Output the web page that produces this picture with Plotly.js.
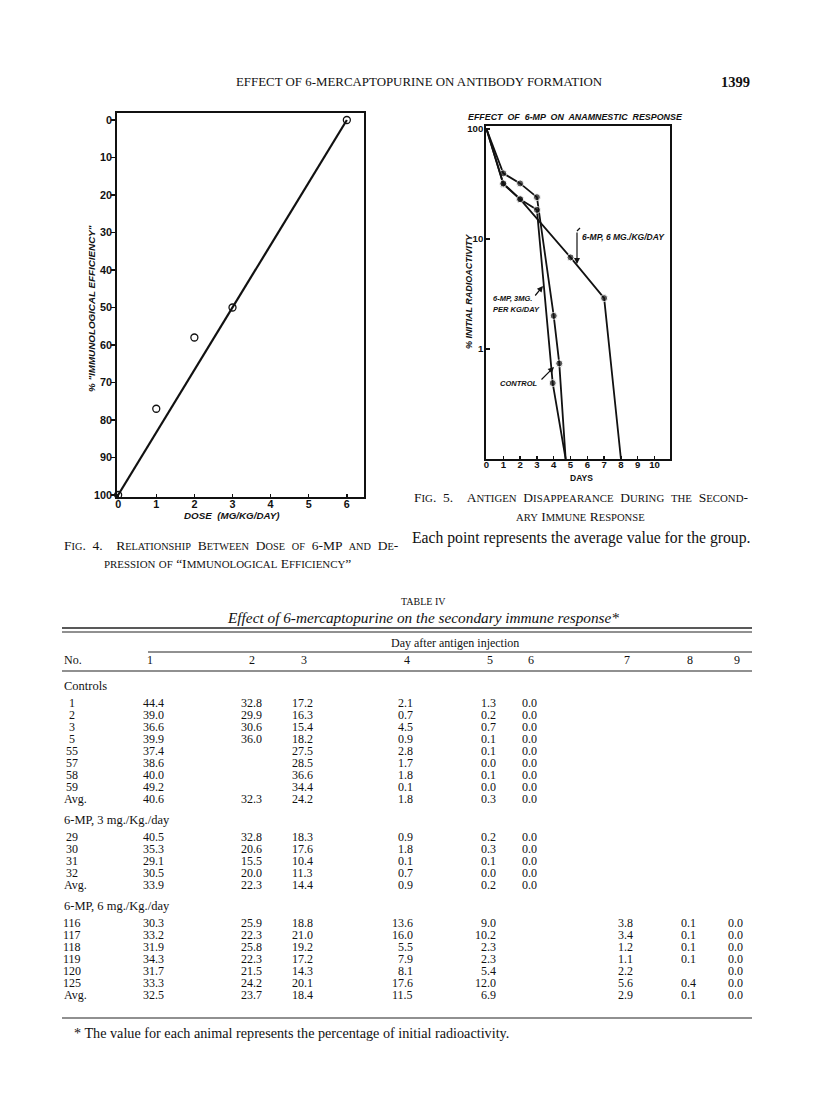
<!DOCTYPE html>
<html><head><meta charset="utf-8">
<script src="https://cdn.plot.ly/plotly-3.0.1.min.js"></script>
<style>html,body{margin:0;padding:0;background:#fff}#g{width:816px;height:1109px}</style>
</head><body><div id="g"></div>
<script>
// ---------- DATA ----------
// Fig. 4
const doseTicks = [0,1,2,3,4,5,6];
const effTicks = [0,10,20,30,40,50,60,70,80,90,100];
const dose = [0,1,2,3,6];
const efficiency = [100,77,58,50,0];
const fitDose = [0,6];
const fitEff = [100,0];
// Fig. 5
const dayTicks = [0,1,2,3,4,5,6,7,8,9,10];
const pctTicks = [1,10,100];
const ctrlDays = [0,1,2,3,4,4.33,4.71];
const ctrlPct  = [100,39.5,32,24,2.0,0.74,0.1];
const mp3Days  = [0,1,2,3,3.94,4.71];
const mp3Pct   = [100,31.5,23,18.4,0.49,0.1];
const mp6Days  = [0,1,2,5,7,8];
const mp6Pct   = [100,32,23,6.8,2.9,0.1];
// Table IV
const tableDays = ['1','2','3','4','5','6','7','8','9'];
const controlRows = [
 ['1','44.4','32.8','17.2','2.1','1.3','0.0','','',''],
 ['2','39.0','29.9','16.3','0.7','0.2','0.0','','',''],
 ['3','36.6','30.6','15.4','4.5','0.7','0.0','','',''],
 ['5','39.9','36.0','18.2','0.9','0.1','0.0','','',''],
 ['55','37.4','','27.5','2.8','0.1','0.0','','',''],
 ['57','38.6','','28.5','1.7','0.0','0.0','','',''],
 ['58','40.0','','36.6','1.8','0.1','0.0','','',''],
 ['59','49.2','','34.4','0.1','0.0','0.0','','',''],
 ['Avg.','40.6','32.3','24.2','1.8','0.3','0.0','','','']
];
const mp3Rows = [
 ['29','40.5','32.8','18.3','0.9','0.2','0.0','','',''],
 ['30','35.3','20.6','17.6','1.8','0.3','0.0','','',''],
 ['31','29.1','15.5','10.4','0.1','0.1','0.0','','',''],
 ['32','30.5','20.0','11.3','0.7','0.0','0.0','','',''],
 ['Avg.','33.9','22.3','14.4','0.9','0.2','0.0','','','']
];
const mp6Rows = [
 ['116','30.3','25.9','18.8','13.6','9.0','','3.8','0.1','0.0'],
 ['117','33.2','22.3','21.0','16.0','10.2','','3.4','0.1','0.0'],
 ['118','31.9','25.8','19.2','5.5','2.3','','1.2','0.1','0.0'],
 ['119','34.3','22.3','17.2','7.9','2.3','','1.1','0.1','0.0'],
 ['120','31.7','21.5','14.3','8.1','5.4','','2.2','','0.0'],
 ['125','33.3','24.2','20.1','17.6','12.0','','5.6','0.4','0.0'],
 ['Avg.','32.5','23.7','18.4','11.5','6.9','','2.9','0.1','0.0']
];
const groupNames = ['Controls','6-MP, 3 mg./Kg./day','6-MP, 6 mg./Kg./day'];

// ---------- LAYOUT HELPERS ----------
const W = 816, H = 1109;
const px = x => x / W, py = y => 1 - y / H;
const SANS = 'Liberation Sans, Arial, sans-serif';
const SERIF = 'Liberation Serif, Times New Roman, serif';
const ann = [];
function txt(text, x, y, o) {
  o = o || {};
  ann.push({text: text, x: px(x), y: py(y), xref: 'paper', yref: 'paper', showarrow: false,
    xanchor: o.anchor || 'center', yanchor: 'middle', textangle: o.angle || 0,
    font: {family: o.family || SERIF, size: o.size || 12, color: '#111',
      weight: o.weight || 400, style: o.style || 'normal'}});
}
// manual small capitals; extra = number of additional no-break spaces per word gap (justified line)
function sc(s, small, extra) {
  let out = '', run = '';
  const pad = '\u00a0'.repeat(extra || 0);
  const flush = () => { if (run) { out += '<span style="font-size:' + small + 'px">' + run.toUpperCase() + '</span>'; run = ''; } };
  for (const ch of s) {
    if (ch >= 'a' && ch <= 'z') run += ch;
    else { flush(); out += (ch === ' ' ? ' ' + pad : ch); }
  }
  flush();
  return out;
}
function arrow(tx, ty, hx, hy) {
  ann.push({text: '', x: px(hx), y: py(hy), xref: 'paper', yref: 'paper', showarrow: true,
    ax: tx - hx, ay: ty - hy, axref: 'pixel', ayref: 'pixel', arrowhead: 2, arrowsize: 1,
    arrowwidth: 1.2, arrowcolor: '#111', standoff: 0, startstandoff: 0});
}
const shapes = [];
function hline(x0, x1, y, w) {
  shapes.push({type: 'line', xref: 'paper', yref: 'paper', x0: px(x0), x1: px(x1), y0: py(y), y1: py(y),
    line: {color: '#222', width: w || 1}});
}
function seg(x0, y0, x1, y1, w) {
  shapes.push({type: 'line', xref: 'paper', yref: 'paper', x0: px(x0), x1: px(x1), y0: py(y0), y1: py(y1),
    line: {color: '#111', width: w || 1.2}});
}

// ---------- PAGE TEXT ----------
txt('EFFECT OF 6-MERCAPTOPURINE ON ANTIBODY FORMATION', 420, 82, {size: 12.9});
txt('1399', 735, 82, {size: 14.5, weight: 700});

// Fig 4 labels
txt('% "IMMUNOLOGICAL EFFICIENCY"', 91, 309, {family: SANS, size: 9.8, weight: 700, style: 'italic', angle: -90});
txt('DOSE  (MG/KG/DAY)', 232, 515, {family: SANS, size: 9.8, weight: 700, style: 'italic'});
txt(sc('Fig. 4.  Relationship Between Dose of 6-MP and De-', 10.3, 1), 62, 545, {anchor: 'left', size: 13.5});
txt(sc('pression of \u201cImmunological Efficiency\u201d', 10.9, 0), 227, 563, {size: 13.5});

// Fig 5 labels
txt('EFFECT  OF  6-MP  ON  ANAMNESTIC  RESPONSE', 575, 117, {family: SANS, size: 8.9, weight: 700, style: 'italic'});
txt('% INITIAL RADIOACTIVITY', 469, 291, {family: SANS, size: 9, weight: 700, style: 'italic', angle: -90});
txt('DAYS', 581, 478, {family: SANS, size: 8.5, weight: 700});
txt('6-MP, 6 MG./KG/DAY', 580, 237, {anchor: 'left', family: SANS, size: 8.5, weight: 700, style: 'italic'});
arrow(577, 231, 577, 264);
seg(577, 231, 580, 228, 1.2);
txt('6-MP, 3MG.', 534, 298, {anchor: 'right', family: SANS, size: 7.5, weight: 700, style: 'italic'});
txt('PER KG/DAY', 542, 309, {anchor: 'right', family: SANS, size: 7.5, weight: 700, style: 'italic'});
arrow(534, 297, 543, 286);
txt('CONTROL', 539, 383, {anchor: 'right', family: SANS, size: 7.5, weight: 700, style: 'italic'});
arrow(540, 381, 554, 367);
txt(sc('Fig. 5.  Antigen Disappearance During the Second-', 10.8, 1), 412, 497, {anchor: 'left', size: 13.5});
txt(sc('ary Immune Response', 10.6, 0), 580, 516, {size: 13.5});
txt('Each point represents the average value for the group.', 410, 538, {anchor: 'left', size: 15.7});

// ---------- TABLE ----------
txt('TABLE IV', 423, 601, {size: 10});
txt('Effect of 6-mercaptopurine on the secondary immune response*', 423, 617, {size: 15.3, style: 'italic'});
hline(62, 752, 628, 1.5);
hline(62, 752, 632, 1);
txt('Day after antigen injection', 455, 643, {size: 12});
hline(148, 752, 652, 1);
const colRight = [166, 264, 315, 415, 498, 539, 635, 698, 745];
const headX = [150, 252, 304, 407, 490, 531, 627, 690, 737];
txt('No.', 62, 660, {anchor: 'left', size: 12});
tableDays.forEach((d, i) => txt(d, headX[i], 660, {size: 12}));
hline(62, 752, 671, 1.2);

let yCur = 686;
const rowStep = 12;
[controlRows, mp3Rows, mp6Rows].forEach((rows, g) => {
  txt(groupNames[g], 62, yCur, {anchor: 'left', size: 12.5});
  yCur += 17;
  rows.forEach(r => {
    if (r[0] === 'Avg.') txt(r[0], 62, yCur, {anchor: 'left', size: 12});
    else txt(r[0], 72, yCur, {size: 12});
    for (let c = 1; c < r.length; c++) if (r[c] !== '') txt(r[c], colRight[c - 1], yCur, {anchor: 'right', size: 12});
    yCur += rowStep;
  });
  yCur += 9;
});
hline(62, 752, 1018, 1.2);
txt('* The value for each animal represents the percentage of initial radioactivity.', 72, 1033, {anchor: 'left', size: 14.2});

// ---------- TRACES ----------
const ink = '#111';
function midMarkers(n, s) { return Array.from({length: n}, (_, i) => (i === 0 || i === n - 1) ? 0 : s); }
const traces = [
  {x: fitDose, y: fitEff, xaxis: 'x', yaxis: 'y', mode: 'lines', line: {color: ink, width: 2.2}, hoverinfo: 'skip'},
  {x: dose, y: efficiency, xaxis: 'x', yaxis: 'y', mode: 'markers', cliponaxis: false,
   marker: {symbol: 'circle-open', size: 7, color: ink, line: {width: 1.3, color: ink}}},
  {x: ctrlDays, y: ctrlPct, xaxis: 'x2', yaxis: 'y2', mode: 'lines+markers', line: {color: ink, width: 1.8},
   marker: {size: midMarkers(ctrlDays.length, 7), color: ink}},
  {x: mp3Days, y: mp3Pct, xaxis: 'x2', yaxis: 'y2', mode: 'lines+markers', line: {color: ink, width: 1.8},
   marker: {size: midMarkers(mp3Days.length, 7), color: ink}},
  {x: mp6Days, y: mp6Pct, xaxis: 'x2', yaxis: 'y2', mode: 'lines+markers', line: {color: ink, width: 1.8},
   marker: {size: midMarkers(mp6Days.length, 7), color: ink}}
];

const axCommon = {showline: true, mirror: true, linecolor: ink, linewidth: 1.8, showgrid: false, zeroline: false,
  tickcolor: ink, tickwidth: 1.5, fixedrange: true};
const tickFont4 = {family: SANS, size: 10.8, weight: 700, color: ink};
const tickFont5 = {family: SANS, size: 9.6, weight: 700, color: ink};

const layout = {
  width: W, height: H, margin: {l: 0, r: 0, t: 0, b: 0}, showlegend: false,
  paper_bgcolor: '#fff', plot_bgcolor: 'rgba(0,0,0,0)',
  xaxis: Object.assign({}, axCommon, {domain: [px(117), px(364)], range: [-0.03, 6.45], anchor: 'y',
    tickmode: 'array', tickvals: doseTicks, ticks: 'inside', ticklen: 3, tickfont: tickFont4, ticklabelstandoff: -4}),
  yaxis: Object.assign({}, axCommon, {domain: [py(497), py(113)], range: [100.53, -1.87], anchor: 'x',
    tickmode: 'array', tickvals: effTicks, ticks: 'outside', ticklen: 4, tickfont: tickFont4, ticklabelstandoff: -3}),
  xaxis2: Object.assign({}, axCommon, {domain: [px(486), px(670)], range: [-0.03, 10.92], anchor: 'y2',
    tickmode: 'array', tickvals: dayTicks, ticks: 'inside', ticklen: 3, ticklabelstandoff: -4, tickfont: tickFont5}),
  yaxis2: Object.assign({}, axCommon, {domain: [py(459), py(126)], type: 'log', range: [-1, 2.027], anchor: 'x2',
    tickmode: 'array', tickvals: pctTicks, ticktext: pctTicks.map(String), ticks: 'inside', ticklen: 4,
    ticklabelstandoff: -1, tickfont: tickFont5}),
  annotations: ann,
  shapes: shapes
};

Plotly.newPlot('g', traces, layout, {staticPlot: true, displayModeBar: false});
</script>
</body></html>
